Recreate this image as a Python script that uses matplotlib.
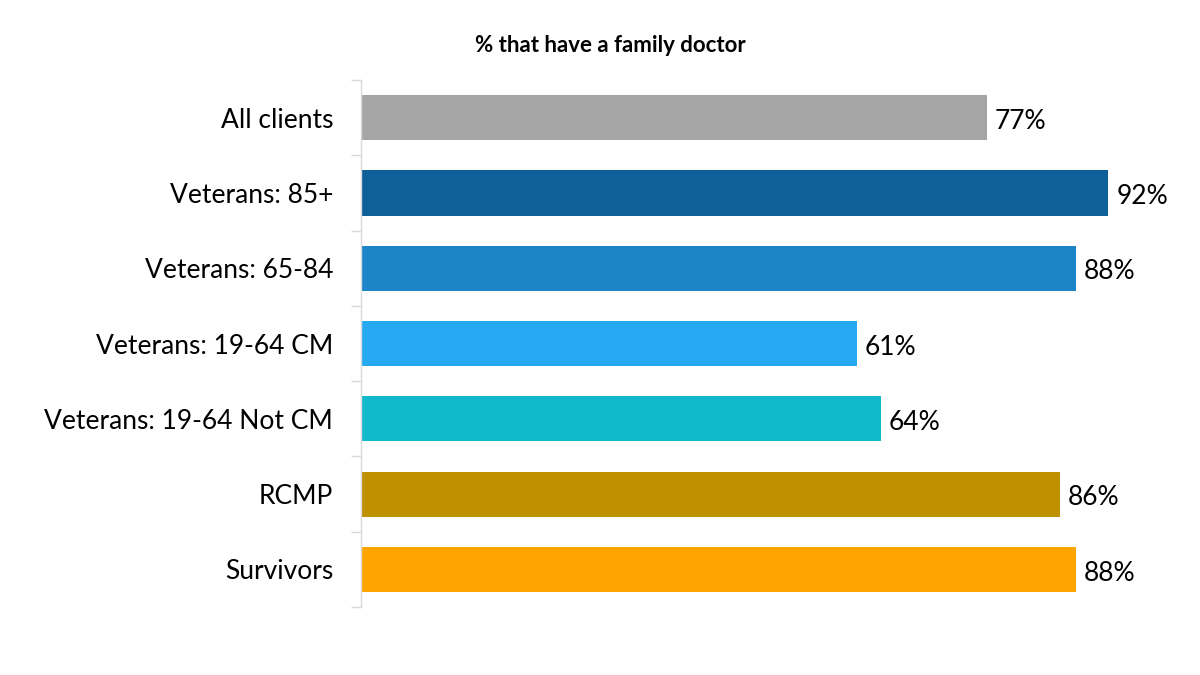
import matplotlib
matplotlib.use("Agg")
import matplotlib.pyplot as plt

categories = ["All clients", "Veterans: 85+", "Veterans: 65-84", "Veterans: 19-64 CM",
              "Veterans: 19-64 Not CM", "RCMP", "Survivors"]
values = [77, 92, 88, 61, 64, 86, 88]
colors = ["#A5A5A5", "#0F5F9A", "#1C85C8", "#25A9F0", "#10B9CB", "#BF9000", "#FFA500"]

plt.rcParams['font.family'] = ['Lato', 'DejaVu Sans']

fig = plt.figure(figsize=(12, 6.75), dpi=100)
ax = fig.add_axes([0.3008, 0.1007, 0.677, 0.7808])

ypos = list(range(len(categories)))
ax.barh(ypos, values, height=0.6, color=colors)
ax.set_ylim(len(categories) - 0.5, -0.5)
ax.set_xlim(0, 100)

for y, v in zip(ypos, values):
    ax.text(v + 1.0, y + 0.05, f"{v}%", va="center", ha="left", fontsize=19, color="black")

ax.set_yticks(ypos)
ax.set_yticklabels(categories, fontsize=19)
ax.set_yticks([i - 0.5 for i in range(len(categories) + 1)], minor=True)
ax.tick_params(axis="y", which="major", length=0, pad=20)
ax.tick_params(axis="y", which="minor", length=7, color="#D9D9D9", width=1)
ax.set_xticks([])
for s in ["top", "right", "bottom"]:
    ax.spines[s].set_visible(False)
ax.spines["left"].set_color("#D9D9D9")
ax.spines["left"].set_linewidth(1)

fig.text(0.509, 0.933, "% that have a family doctor", ha="center", va="center",
         fontsize=16, fontweight="bold")

fig.savefig("out.png", dpi=100)
